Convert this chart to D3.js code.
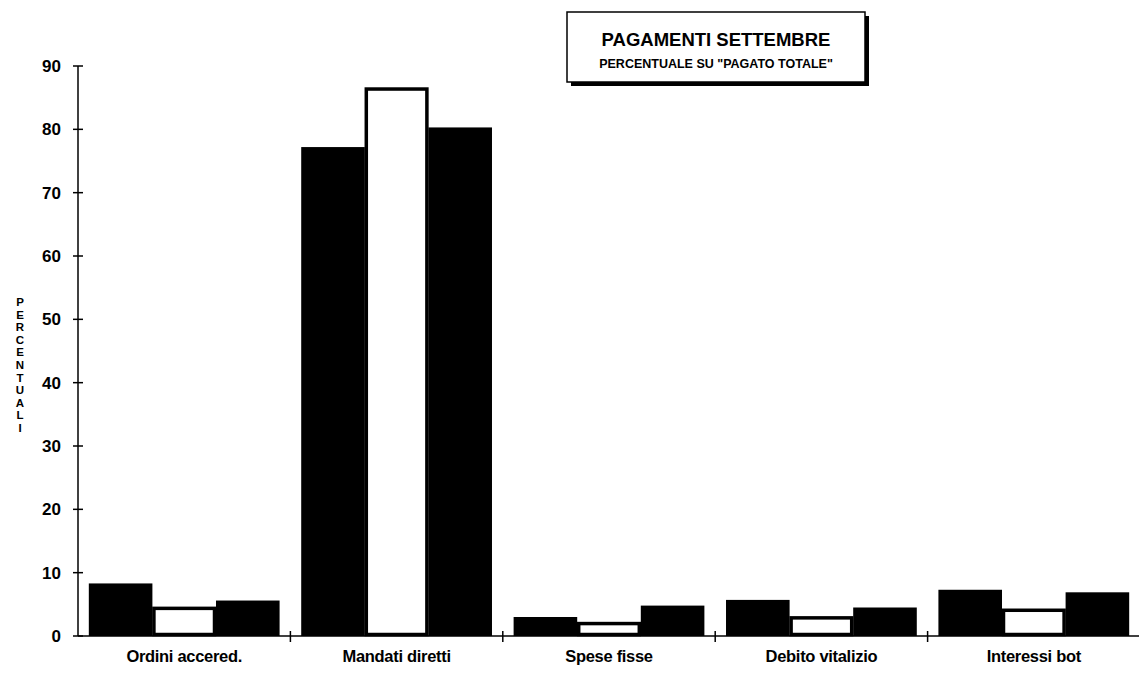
<!DOCTYPE html>
<html>
<head>
<meta charset="utf-8">
<script src="https://cdn.jsdelivr.net/npm/d3@7"></script>
<style>
  body { margin: 0; background: #fff; }
  text { font-family: "Liberation Sans", Arial, sans-serif; font-weight: bold; fill: #000; }
</style>
</head>
<body>
<script>
const categories = ["Ordini accered.", "Mandati diretti", "Spese fisse", "Debito vitalizio", "Interessi bot"];
const series1 = [8.3, 77.2, 3.0, 5.7, 7.3];
const series2 = [4.6, 86.6, 2.2, 3.1, 4.3];
const series3 = [5.6, 80.3, 4.8, 4.5, 6.9];
const yTicks = [0, 10, 20, 30, 40, 50, 60, 70, 80, 90];
const yTitle = "PERCENTUALI";
const title = "PAGAMENTI SETTEMBRE";
const subtitle = "PERCENTUALE SU \"PAGATO TOTALE\"";

const width = 1139, height = 677;
const margin = { left: 78, right: 0, top: 66, bottom: 41 };

const svg = d3.select(document.body).append("svg")
  .attr("width", width)
  .attr("height", height);

const x = d3.scaleBand()
  .domain(categories)
  .range([margin.left, margin.left + 5 * 212.4]);

const inner = d3.scaleBand()
  .domain([0, 1, 2])
  .range([0, x.bandwidth()])
  .paddingOuter(0.17);

const y = d3.scaleLinear()
  .domain([0, 90])
  .range([height - margin.bottom, margin.top]);

const rows = categories.map((c, i) => ({ cat: c, vals: [series1[i], series2[i], series3[i]] }));

// bars
const groups = svg.append("g")
  .selectAll("g")
  .data(rows)
  .join("g")
    .attr("transform", d => `translate(${x(d.cat)},0)`);

groups.selectAll("rect")
  .data(d => d.vals.map((v, k) => ({ v, k })))
  .join("rect")
    .attr("x", d => inner(d.k) + (d.k === 1 ? 1.5 : 0))
    .attr("width", d => inner.bandwidth() - (d.k === 1 ? 3 : 0))
    .attr("y", d => y(d.v) + (d.k === 1 ? 1.5 : 0))
    .attr("height", d => y(0) - y(d.v) - (d.k === 1 ? 3 : 0))
    .attr("fill", d => d.k === 1 ? "#fff" : "#000")
    .attr("stroke", "#000")
    .attr("stroke-width", d => d.k === 1 ? 3.5 : 0);

// y axis
const yAxis = svg.append("g");
yAxis.append("line")
  .attr("x1", margin.left).attr("x2", margin.left)
  .attr("y1", y(0)).attr("y2", y(90))
  .attr("stroke", "#000").attr("stroke-width", 1.5);
yAxis.selectAll("line.tick")
  .data(yTicks)
  .join("line")
    .attr("class", "tick")
    .attr("x1", margin.left - 5).attr("x2", margin.left + 5)
    .attr("y1", d => y(d)).attr("y2", d => y(d))
    .attr("stroke", "#000").attr("stroke-width", 1.5);
yAxis.selectAll("text")
  .data(yTicks)
  .join("text")
    .attr("x", 61)
    .attr("y", d => y(d))
    .attr("dy", "0.36em")
    .attr("text-anchor", "end")
    .attr("font-size", 17)
    .text(d => d);

// x axis
const xAxis = svg.append("g");
xAxis.append("line")
  .attr("x1", margin.left).attr("x2", x.range()[1])
  .attr("y1", y(0)).attr("y2", y(0))
  .attr("stroke", "#000").attr("stroke-width", 1.5);
xAxis.selectAll("line.tick")
  .data(categories.slice(1))
  .join("line")
    .attr("class", "tick")
    .attr("x1", d => x(d)).attr("x2", d => x(d))
    .attr("y1", y(0) - 5).attr("y2", y(0) + 6)
    .attr("stroke", "#000").attr("stroke-width", 1.5);
xAxis.selectAll("text")
  .data(categories)
  .join("text")
    .attr("x", d => x(d) + x.bandwidth() / 2)
    .attr("y", 662)
    .attr("text-anchor", "middle")
    .attr("font-size", 16.5)
    .attr("letter-spacing", -0.3)
    .text(d => d);

// y title, stacked letters
svg.append("g")
  .selectAll("text")
  .data(yTitle.split(""))
  .join("text")
    .attr("x", 20)
    .attr("y", (d, i) => 306 + i * 12.6)
    .attr("text-anchor", "middle")
    .attr("font-size", 11.5)
    .text(d => d);

// title box with shadow
const box = { x: 567, y: 12, w: 298, h: 70 };
svg.append("rect")
  .attr("x", box.x + 4).attr("y", box.y + 4)
  .attr("width", box.w).attr("height", box.h)
  .attr("fill", "#000");
svg.append("rect")
  .attr("x", box.x).attr("y", box.y)
  .attr("width", box.w).attr("height", box.h)
  .attr("fill", "#fff").attr("stroke", "#000").attr("stroke-width", 1.5);
svg.append("text")
  .attr("x", box.x + box.w / 2).attr("y", 46)
  .attr("text-anchor", "middle")
  .attr("font-size", 18.5)
  .text(title);
svg.append("text")
  .attr("x", box.x + box.w / 2).attr("y", 68)
  .attr("text-anchor", "middle")
  .attr("font-size", 12.5)
  .text(subtitle);
</script>
</body>
</html>
